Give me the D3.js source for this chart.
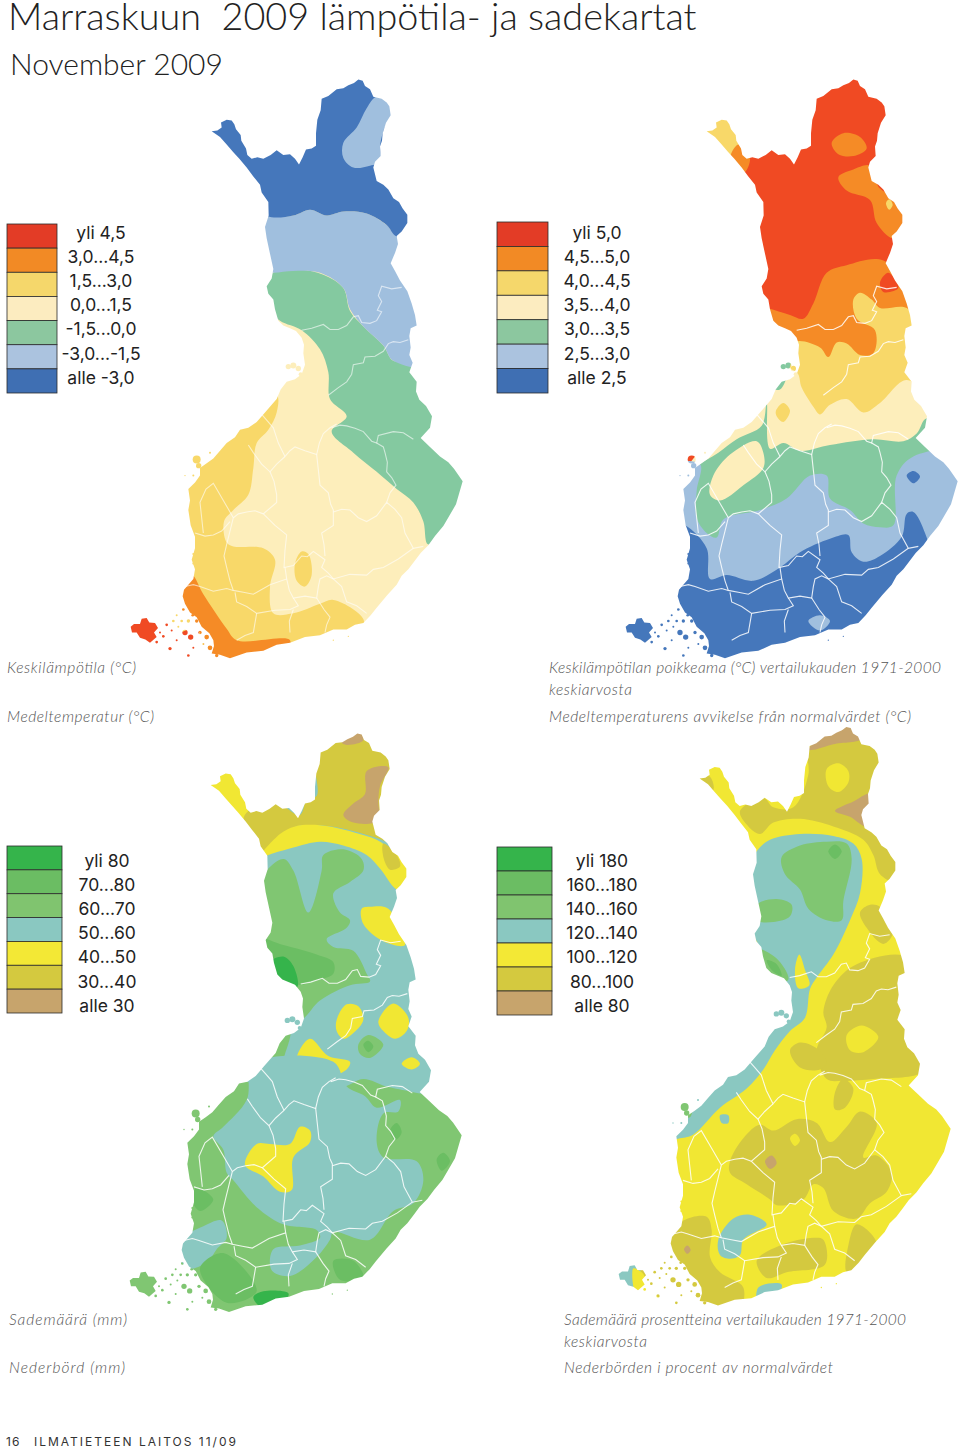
<!DOCTYPE html>
<html>
<head>
<meta charset="utf-8">
<script src="https://cdn.jsdelivr.net/npm/d3@7"></script>
<style>
  html, body { margin: 0; padding: 0; background: #fff; }
  svg { display: block; }
</style>
</head>
<body>
<div id="chart"></div>
<script>
var svgWidth = 960;
var svgHeight = 1450;

// legend classes
var tempLabels = ["yli 4,5", "3,0...4,5", "1,5...3,0", "0,0...1,5", "-1,5...0,0", "-3,0...-1,5", "alle -3,0"];
var devLabels = ["yli 5,0", "4,5...5,0", "4,0...4,5", "3,5...4,0", "3,0...3,5", "2,5...3,0", "alle 2,5"];
var rainLabels = ["yli 80", "70...80", "60...70", "50...60", "40...50", "30...40", "alle 30"];
var pctLabels = ["yli 180", "160...180", "140...160", "120...140", "100...120", "80...100", "alle 80"];

var warmColors = ["#e33c26", "#f28a25", "#f5d76b", "#fcecc0", "#8cc79f", "#abc3df", "#3f6fb3"];
var warmMapColors = ["#f04a23", "#f58b26", "#f8d869", "#fdeebb", "#84c9a0", "#a0bfde", "#4577bb"];
var wetColors = ["#35b44b", "#6bbd63", "#80c46f", "#8ac8c1", "#f3e835", "#d4c93f", "#c7a46c"];
var wetMapColors = ["#35b44b", "#6bbe63", "#80c672", "#8ac8c1", "#f1e733", "#d4c93f", "#c7a46c"];

// country outline (zoomed picture units)
var finland = [[635,160],[652,158],[665,150],[663,137],[680,130],[695,132],[703,142],[708,155],[722,170],[724,185],[738,205],[742,222],[755,232],[772,228],[790,232],[812,222],[830,210],[850,222],[870,220],[885,232],[897,247],[908,228],[918,208],[935,205],[948,198],[948,165],[952,130],[962,105],[965,75],[985,68],[1010,50],[1030,48],[1045,40],[1062,34],[1075,25],[1088,28],[1095,42],[1110,50],[1120,70],[1145,75],[1160,85],[1168,95],[1172,118],[1158,138],[1148,165],[1146,185],[1140,200],[1142,225],[1125,240],[1120,255],[1130,290],[1150,300],[1165,312],[1180,335],[1197,345],[1208,362],[1222,378],[1222,400],[1205,422],[1190,434],[1194,455],[1185,478],[1172,505],[1185,525],[1200,550],[1222,578],[1235,610],[1245,640],[1250,668],[1232,675],[1228,695],[1232,725],[1228,745],[1238,765],[1228,790],[1250,815],[1248,840],[1258,862],[1278,878],[1296,905],[1290,935],[1262,962],[1290,985],[1320,1010],[1345,1025],[1362,1042],[1388,1075],[1378,1105],[1368,1135],[1348,1165],[1330,1192],[1305,1218],[1285,1242],[1262,1262],[1245,1282],[1225,1305],[1205,1322],[1190,1345],[1162,1372],[1130,1405],[1112,1425],[1090,1445],[1065,1450],[1040,1462],[1000,1462],[960,1477],[915,1482],[870,1497],[830,1502],[790,1518],[740,1522],[690,1537],[660,1528],[635,1525],[642,1505],[640,1490],[628,1472],[605,1455],[590,1430],[570,1418],[555,1395],[548,1375],[552,1358],[580,1330],[585,1305],[575,1280],[585,1250],[585,1220],[572,1190],[565,1150],[570,1125],[565,1095],[585,1078],[600,1060],[600,1040],[620,1028],[640,1015],[660,995],[680,975],[705,960],[720,940],[745,935],[770,920],[795,895],[830,860],[842,835],[860,815],[885,808],[905,795],[915,770],[910,740],[912,718],[905,700],[888,682],[870,675],[850,668],[835,655],[825,625],[820,600],[805,585],[800,565],[815,545],[820,520],[810,480],[800,440],[795,410],[806,380],[805,345],[785,320],[780,300],[760,278],[740,255],[718,232],[700,215],[680,195],[660,175]];
var aland = [[392,1455],[402,1448],[420,1448],[425,1434],[440,1432],[448,1444],[465,1445],[474,1458],[462,1470],[470,1482],[450,1497],[436,1488],[420,1484],[410,1470],[396,1470]];
var islets = [[480,1470,3],[500,1450,4],[520,1440,4],[530,1425,3],[550,1410,4],[565,1440,5],[590,1440,5],[605,1420,4],[555,1470,8],[572,1482,8],[600,1470,5],[620,1482,7],[510,1512,5],[580,1510,3],[565,1530,4],[640,1450,6],[625,1430,5],[660,1500,8],[630,1510,7],[590,1018,12],[596,1034,8],[580,1060,3],[555,1060,2],[630,1000,3],[660,1000,3],[580,1290,3],[580,1265,3],[865,775,8],[880,772,9],[895,780,8],[902,795,6],[1045,1480,2],[1000,1490,2],[470,1495,4],[490,1480,4],[610,1450,5],[545,1440,4],[515,1465,3],[535,1455,3],[578,1425,4],[625,1455,5],[645,1475,6],[610,1500,3],[650,1530,5],[530,1490,3],[680,1520,6]];

// province borders, same units as the outline
var borders = [
  [[905,680],[935,675],[970,665],[990,678],[1015,678],[1040,668],[1060,645],[1075,642],[1085,660],[1110,662],[1130,655],[1145,632],[1132,628],[1145,605],[1135,590],[1145,565],[1175,572],[1205,568]],
  [[985,850],[1015,830],[1040,815],[1055,795],[1060,770],[1090,765],[1095,750],[1125,748],[1150,735],[1165,715],[1180,710],[1200,712],[1225,705]],
  [[995,935],[1020,928],[1040,930],[1065,936],[1090,945],[1115,970],[1130,975],[1135,955],[1180,945],[1210,948],[1240,965]],
  [[1130,975],[1150,985],[1155,1000],[1162,1025],[1160,1050],[1175,1065],[1188,1085],[1170,1105],[1160,1130]],
  [[780,895],[800,915],[820,935],[835,975],[855,1010],[870,995],[885,985],[915,995],[950,1005],[958,975],[970,950],[990,935],[1010,925]],
  [[950,1005],[955,1045],[960,1085],[985,1105],[992,1135],[1000,1150],[1000,1190],[965,1210],[972,1240],[975,1270]],
  [[1000,1155],[1025,1148],[1050,1150],[1075,1170],[1100,1180],[1130,1165],[1160,1130],[1185,1148],[1205,1170],[1215,1210],[1240,1250],[1270,1245]],
  [[855,1010],[830,1030],[810,1050],[785,1030],[760,1000],[745,980]],
  [[810,1050],[822,1075],[830,1110],[830,1130],[790,1160],[825,1190],[860,1215],[855,1255],[852,1300],[880,1295],[905,1270],[922,1272],[940,1258],[975,1280],[965,1300],[985,1315],[1000,1330],[1050,1318],[1100,1320],[1120,1305],[1150,1300],[1195,1278],[1240,1250]],
  [[790,1160],[765,1152],[740,1155],[715,1160],[700,1170],[690,1205],[680,1240],[672,1270],[680,1300],[690,1335],[700,1360],[730,1365],[760,1370],[810,1345],[860,1330],[855,1300]],
  [[700,1170],[670,1125],[640,1080],[618,1095],[600,1130],[605,1170],[610,1210]],
  [[585,1210],[615,1218],[640,1215],[665,1205],[690,1180]],
  [[555,1350],[580,1345],[600,1350],[640,1362],[680,1355],[700,1360]],
  [[860,1330],[868,1360],[880,1380],[915,1375],[950,1380],[955,1350],[960,1330],[980,1322],[1000,1330],[1025,1350],[1040,1390],[1070,1400],[1100,1420]],
  [[880,1380],[895,1400],[870,1410],[825,1412],[770,1420],[740,1402],[710,1390],[705,1365]],
  [[770,1420],[765,1445],[760,1470],[735,1478],[710,1490]],
  [[880,1410],[868,1440],[870,1470]],
  [[950,1380],[972,1410],[990,1430],[980,1450],[975,1470]]
];

// zones: [class label, points], painted in order, each map in its own picture units
var tempZones = [
  ["1,5...3,0", [[830,850],[830,895],[805,940],[770,975],[760,1040],[745,1110],[700,1150],[672,1180],[680,1235],[700,1245],[790,1250],[825,1280],[810,1350],[820,1420],[880,1420],[960,1395],[1000,1385],[1090,1435],[1080,1480],[800,1560],[500,1560],[500,1000],[700,900]]],
  ["1,5...3,0", [[905,1258],[925,1265],[935,1320],[915,1350],[890,1335],[885,1290]]],
  ["3,0...4,5", [[575,1320],[610,1370],[680,1460],[710,1490],[870,1490],[850,1530],[700,1570],[600,1570],[610,1490],[540,1400],[545,1350]]],
  ["yli 4,5", [[370,1410],[480,1410],[530,1470],[590,1455],[595,1500],[560,1540],[500,1530],[370,1520]]],
  ["-1,5...0,0", [[780,570],[820,530],[900,522],[970,535],[1030,570],[1050,630],[1090,670],[1150,720],[1180,760],[1240,755],[1420,900],[1420,1100],[1285,1240],[1270,1180],[1240,1130],[1190,1095],[1130,1050],[1060,1000],[995,945],[1040,905],[990,860],[985,790],[960,730],[905,680],[840,655],[800,620]]],
  ["-3,0...-1,5", [[740,385],[800,382],[880,380],[930,365],[980,380],[1030,370],[1100,375],[1160,405],[1190,432],[1300,430],[1300,770],[1180,760],[1150,720],[1090,670],[1050,625],[1030,570],[960,530],[880,525],[820,530],[760,530]]],
  ["alle -3,0", [[600,100],[800,0],[1300,0],[1300,430],[1190,435],[1160,405],[1100,375],[1030,370],[980,380],[930,365],[880,380],[800,382],[700,320]]],
  ["-3,0...-1,5", [[1130,70],[1180,95],[1150,160],[1140,200],[1142,240],[1110,250],[1060,255],[1030,230],[1030,190],[1070,150],[1100,100]]]
];

var devZones = [
  ["4,0...4,5", [[660,120],[750,125],[785,190],[745,245],[670,200]]],
  ["4,5...5,0", [[750,235],[775,195],[810,230],[790,270]]],
  ["4,5...5,0", [[1055,190],[1090,165],[1140,175],[1160,205],[1120,225],[1075,220]]],
  ["4,5...5,0", [[1075,280],[1120,260],[1170,250],[1200,310],[1290,350],[1280,400],[1240,440],[1190,400],[1170,340],[1100,315]]],
  ["4,0...4,5", [[1218,348],[1228,338],[1238,352],[1228,365]]],
  ["4,5...5,0", [[790,610],[860,622],[930,640],[970,650],[1000,610],[1040,530],[1100,510],[1210,498],[1320,620],[1320,1000],[800,1000]]],
  ["yli 5,0", [[1200,555],[1225,530],[1255,570],[1210,580]]],
  ["4,0...4,5", [[1120,600],[1140,582],[1175,600],[1200,622],[1280,622],[1340,700],[1400,1000],[800,1000],[900,760],[945,710],[1020,725],[1045,750],[1070,712],[1100,715],[1140,745],[1180,740],[1185,680],[1130,650]]],
  ["3,5...4,0", [[870,780],[950,790],[965,830],[1000,880],[1020,900],[1050,875],[1100,860],[1150,895],[1200,870],[1280,810],[1360,880],[1400,1100],[600,1100],[700,950]]],
  ["4,0...4,5", [[888,890],[910,870],[930,890],[910,920],[890,905]]],
  ["3,0...3,5", [[860,870],[845,930],[770,965],[715,1000],[640,1040],[560,1100],[560,1300],[1440,1300],[1440,940],[1340,910],[1310,950],[1270,970],[1180,965],[1050,980],[960,995],[910,975],[870,990]]],
  ["3,0...3,5", [[880,760],[930,760],[925,790],[900,835],[875,830]]],
  ["3,5...4,0", [[690,1110],[700,1060],[750,1005],[830,970],[850,1000],[850,1040],[790,1085],[720,1125]]],
  ["2,5...3,0", [[560,1040],[660,1030],[650,1100],[650,1170],[680,1210],[710,1222],[730,1175],[840,1150],[920,1120],[990,1060],[1040,1060],[1050,1120],[1110,1150],[1150,1185],[1200,1195],[1240,1190],[1250,1060],[1300,1010],[1440,1000],[1480,1100],[1400,1300],[1000,1400],[600,1400]]],
  ["alle 2,5", [[560,1180],[615,1190],[680,1250],[690,1330],[740,1320],[820,1335],[900,1300],[960,1260],[1050,1225],[1105,1215],[1115,1260],[1150,1285],[1200,1270],[1265,1220],[1280,1160],[1300,1155],[1335,1210],[1345,1260],[1200,1450],[1000,1600],[400,1600],[400,1400]]],
  ["alle 2,5", [[1280,1060],[1300,1048],[1320,1062],[1300,1080]]],
  ["2,5...3,0", [[985,1440],[1020,1425],[1050,1440],[1020,1465]]]
];

var rainZones = [
  ["40...50", [[610,100],[700,100],[745,220],[730,265],[680,220],[620,180]]],
  ["30...40", [[730,250],[745,225],[830,205],[900,235],[920,195],[950,185],[950,70],[1080,0],[1200,60],[1200,310],[1130,295],[1050,275],[960,262],[880,268],[830,315],[790,345],[760,300]]],
  ["40...50", [[780,345],[840,285],[885,265],[960,262],[1060,280],[1130,300],[1180,330],[1250,370],[1240,440],[1190,430],[1140,375],[1100,340],[1030,315],[960,305],[880,320],[820,335]]],
  ["30...40", [[1150,310],[1190,340],[1200,370],[1170,378],[1150,345]]],
  ["alle 30", [[1100,120],[1165,110],[1140,160],[1135,200],[1135,250],[1060,255],[1030,235],[1060,205],[1095,180]]],
  ["alle 30", [[1025,45],[1075,15],[1090,40],[1040,52]]],
  ["60...70", [[770,420],[850,350],[880,380],[925,490],[965,380],[970,340],[1030,325],[1085,350],[1090,380],[1050,410],[1000,440],[1020,490],[1050,510],[1040,530],[980,560],[1000,580],[1060,590],[1100,650],[1110,670],[1050,680],[960,720],[900,770],[860,700],[770,680]]],
  ["70...80", [[780,560],[850,575],[950,600],[1000,620],[1000,650],[960,665],[890,680],[800,660]]],
  ["yli 80", [[810,620],[850,605],[880,630],[892,685],[860,685],[825,650]]],
  ["40...50", [[1085,480],[1110,475],[1165,480],[1215,575],[1150,565],[1090,520]]],
  ["40...50", [[1010,770],[1040,730],[1075,735],[1090,770],[1060,805],[1030,820],[1010,800]]],
  ["40...50", [[1135,775],[1180,728],[1225,765],[1220,800],[1185,820],[1150,800]]],
  ["40...50", [[1205,885],[1235,868],[1260,885],[1235,900]]],
  ["60...70", [[1075,835],[1105,810],[1150,835],[1110,870],[1080,860]]],
  ["70...80", [[1090,835],[1105,825],[1120,840],[1105,855]]],
  ["40...50", [[890,870],[930,820],[985,865],[1050,880],[1040,900],[960,925],[900,910]]],
  ["60...70", [[835,790],[870,795],[855,860],[840,890],[800,870]]],
  ["60...70", [[700,930],[760,935],[1030,945],[1090,925],[1160,945],[1240,960],[1420,1000],[1420,1100],[1260,1280],[1100,1480],[1000,1600],[400,1600],[480,1000]]],
  ["50...60", [[760,885],[1000,880],[1040,945],[1095,970],[1130,1000],[1200,980],[1195,1010],[1150,1015],[1130,1090],[1150,1130],[1250,1140],[1270,1190],[1240,1250],[1180,1270],[1110,1345],[1000,1325],[990,1345],[950,1390],[870,1440],[815,1425],[820,1370],[900,1360],[960,1340],[950,1320],[850,1305],[770,1260],[700,1190],[680,1170],[670,1110],[640,1075],[670,1050],[740,980]]],
  ["50...60", [[540,1345],[610,1310],[665,1295],[680,1340],[650,1370],[625,1400],[570,1420],[530,1380]]],
  ["70...80", [[600,1420],[670,1380],[770,1480],[680,1510]]],
  ["70...80", [[1000,1400],[1060,1400],[1090,1445],[1020,1450]]],
  ["70...80", [[1170,1060],[1190,1040],[1205,1065],[1185,1085]]],
  ["70...80", [[1310,1135],[1330,1118],[1350,1140],[1325,1165]]],
  ["70...80", [[590,1210],[640,1240],[600,1270],[575,1240]]],
  ["yli 80", [[760,1495],[790,1480],[865,1485],[860,1500],[790,1525]]],
  ["40...50", [[735,1150],[770,1095],[810,1095],[870,1095],[900,1050],[930,1060],[930,1090],[880,1130],[875,1215],[840,1220],[790,1180]]]
];

var pctZones = [
  ["80...100", [[780,225],[850,190],[880,215],[940,215],[985,130],[985,50],[1100,-20],[1220,80],[1270,350],[1250,410],[1200,390],[1180,340],[1150,300],[1060,265],[960,245],[880,255],[840,285],[800,260]]],
  ["80...100", [[650,130],[690,135],[700,170],[670,170]]],
  ["100...120", [[1040,115],[1075,100],[1105,120],[1105,150],[1075,175],[1045,160]]],
  ["alle 80", [[985,65],[1030,25],[1105,-10],[1145,35],[1060,50],[1000,65]]],
  ["alle 80", [[1065,225],[1120,200],[1170,180],[1160,265],[1110,240]]],
  ["80...100", [[1170,470],[1200,475],[1240,540],[1210,572],[1160,530],[1140,490]]],
  ["80...100", [[1030,750],[1060,680],[1130,625],[1290,610],[1340,880],[1320,910],[1180,925],[1090,930],[1040,925],[1010,850],[1040,790]]],
  ["80...100", [[930,850],[960,830],[1010,845],[1040,880],[1020,900],[960,895]]],
  ["100...120", [[1100,810],[1145,785],[1195,815],[1150,855],[1110,850]]],
  ["120...140", [[830,330],[870,300],[960,285],[1060,290],[1120,310],[1145,350],[1140,440],[1110,510],[1060,600],[1010,660],[990,690],[975,765],[930,800],[885,850],[850,900],[800,950],[720,1000],[640,1070],[600,1080],[480,1090],[480,950],[760,830],[870,680],[800,500],[790,400]]],
  ["100...120", [[958,600],[975,640],[988,680],[955,688],[945,640]]],
  ["140...160", [[905,345],[960,315],[1040,305],[1100,310],[1115,350],[1090,460],[1085,510],[1040,510],[985,480],[960,430],[915,390]]],
  ["160...180", [[1045,330],[1065,312],[1085,330],[1065,350]]],
  ["140...160", [[830,470],[890,455],[935,470],[930,500],[880,515],[830,510]]],
  ["140...160", [[830,585],[890,610],[925,665],[880,675],[840,630]]],
  ["160...180", [[860,615],[890,625],[905,655],[875,640]]],
  ["80...100", [[1130,1305],[1190,1355],[1130,1430],[1100,1430],[1105,1360]]],
  ["80...100", [[750,1140],[790,1080],[840,1045],[880,1060],[950,1030],[1010,1040],[1050,1090],[1100,1050],[1140,1010],[1190,1040],[1150,1130],[1190,1125],[1235,1170],[1220,1220],[1170,1250],[1130,1290],[1060,1270],[1030,1210],[1000,1200],[970,1240],[890,1255],[870,1240],[800,1200],[750,1170]]],
  ["100...120", [[930,1080],[945,1068],[960,1085],[945,1100]]],
  ["alle 80", [[855,1140],[875,1125],[890,1145],[870,1160]]],
  ["80...100", [[1065,960],[1090,925],[1120,950],[1095,1000],[1065,1005]]],
  ["80...100", [[570,1340],[610,1295],[680,1285],[695,1320],[690,1390],[720,1430],[790,1470],[770,1540],[600,1540],[480,1420],[540,1400]]],
  ["alle 80", [[612,1370],[622,1360],[632,1372],[622,1382]]],
  ["120...140", [[715,1345],[760,1290],[810,1280],[860,1305],[790,1345],[780,1385],[750,1395],[720,1385]]],
  ["80...100", [[830,1400],[900,1360],[1000,1340],[1030,1345],[1035,1410],[920,1430],[860,1445]]],
  ["120...140", [[400,1420],[460,1400],[490,1470],[440,1490]]],
  ["100...120", [[460,1420],[490,1435],[500,1480],[470,1490]]],
  ["120...140", [[835,1470],[905,1462],[875,1515],[835,1515]]],
  ["140...160", [[595,990],[635,985],[630,1025],[600,1020]]],
  ["120...140", [[720,1020],[745,1020],[745,1040],[725,1040]]]
];

// captions
var titleMain = "Marraskuun  2009 lämpötila- ja sadekartat";
var titleSub = "November 2009";
var footerPage = "16";
var footerName = "ILMATIETEEN LAITOS 11/09";

var panels = [
  { labels: tempLabels, legendColors: warmColors, mapColors: warmMapColors, base: "0,0...1,5", zones: tempZones,
    originX: 0, originY: 70, shiftX: 0, shiftY: 0,
    legend: { x: 7, top: 224, bottom: 393, w: 50, tx: 101, textTop: 222, textBottom: 391 },
    caption: [[7, 673, "Keskilämpötila (°C)", 129], [7, 722, "Medeltemperatur (°C)", 147]] },
  { labels: devLabels, legendColors: warmColors, mapColors: warmMapColors, base: "yli 5,0", zones: devZones,
    originX: 480, originY: 70, shiftX: 45, shiftY: 0,
    legend: { x: 497, top: 222, bottom: 393, w: 51, tx: 597, textTop: 222, textBottom: 391 },
    caption: [[549, 673, "Keskilämpötilan poikkeama (°C) vertailukauden 1971-2000", 392], [549, 695, "keskiarvosta", 83], [549, 722, "Medeltemperaturens avvikelse från normalvärdet (°C)", 362]] },
  { labels: rainLabels, legendColors: wetColors, mapColors: wetMapColors, base: "50...60", zones: rainZones,
    originX: 0, originY: 725, shiftX: -3, shiftY: -3,
    legend: { x: 7, top: 846, bottom: 1013, w: 55, tx: 107, textTop: 850, textBottom: 1019 },
    caption: [[9, 1325, "Sademäärä (mm)", 118], [9, 1373, "Nederbörd (mm)", 116]] },
  { labels: pctLabels, legendColors: wetColors, mapColors: wetMapColors, base: "100...120", zones: pctZones,
    originX: 480, originY: 725, shiftX: 24, shiftY: -20,
    legend: { x: 497, top: 847, bottom: 1015, w: 55, tx: 602, textTop: 850, textBottom: 1019 },
    caption: [[564, 1325, "Sademäärä prosentteina vertailukauden 1971-2000", 342], [564, 1347, "keskiarvosta", 83], [564, 1373, "Nederbörden i procent av normalvärdet", 269]] }
];

var svg = d3.select("#chart")
  .append("svg")
  .attr("width", svgWidth)
  .attr("height", svgHeight)
  .attr("viewBox", "0 0 " + svgWidth + " " + svgHeight);

svg.append("text")
  .attr("x", 8)
  .attr("y", 30)
  .attr("xml:space", "preserve")
  .style("white-space", "pre")
  .style("font", "300 37.8px Lato")
  .style("fill", "#222")
  .text(titleMain);

svg.append("text")
  .attr("x", 10)
  .attr("y", 75)
  .style("font", "300 30px Lato")
  .style("fill", "#222")
  .text(titleSub);

panels.forEach(function(p, i) {
  // picture units of this map -> page pixels
  var zx = d3.scaleLinear().domain([0, 1440]).range([p.originX, p.originX + 480]);
  var zy = d3.scaleLinear().domain([0, 1568]).range([p.originY, p.originY + 600]);
  // same scales for the shared outline, moved to where this map sits
  var ox = function(v) { return zx(v + p.shiftX); };
  var oy = function(v) { return zy(v + p.shiftY); };

  var color = d3.scaleOrdinal().domain(p.labels).range(p.mapColors);

  var outlinePath = d3.line().x(function(d) { return ox(d[0]); }).y(function(d) { return oy(d[1]); })
    .curve(d3.curveLinearClosed);
  var borderPath = d3.line().x(function(d) { return ox(d[0]); }).y(function(d) { return oy(d[1]); })
    .curve(d3.curveLinear);
  var zonePath = d3.line().x(function(d) { return zx(d[0]); }).y(function(d) { return zy(d[1]); })
    .curve(d3.curveCatmullRomClosed.alpha(0.5));

  var clip = svg.append("clipPath").attr("id", "land" + i);
  clip.append("path").attr("d", outlinePath(finland));
  clip.append("path").attr("d", outlinePath(aland));
  clip.selectAll("circle")
    .data(islets)
    .enter()
    .append("circle")
    .attr("cx", function(d) { return ox(d[0]); })
    .attr("cy", function(d) { return oy(d[1]); })
    .attr("r", function(d) { return zx(d[2]) - zx(0); });

  var map = svg.append("g").attr("clip-path", "url(#land" + i + ")");

  map.append("rect")
    .attr("x", zx(0))
    .attr("y", zy(0) - 10)
    .attr("width", zx(1440) - zx(0))
    .attr("height", zy(1568) - zy(0))
    .attr("fill", color(p.base));

  map.selectAll("path.zone")
    .data(p.zones)
    .enter()
    .append("path")
    .attr("class", "zone")
    .attr("fill", function(d) { return color(d[0]); })
    .attr("d", function(d) { return zonePath(d[1]); });

  map.selectAll("path.border")
    .data(borders)
    .enter()
    .append("path")
    .attr("class", "border")
    .attr("fill", "none")
    .attr("stroke", "#fff")
    .attr("stroke-opacity", i == 0 ? 0.6 : 0.85)
    .attr("stroke-width", 1.1)
    .attr("d", borderPath);

  // legend
  var band = d3.scaleBand().domain(p.labels).range([p.legend.top, p.legend.bottom]);
  var textBand = d3.scaleBand().domain(p.labels).range([p.legend.textTop, p.legend.textBottom]);
  var swatch = d3.scaleOrdinal().domain(p.labels).range(p.legendColors);

  svg.selectAll("rect.sw" + i)
    .data(p.labels)
    .enter()
    .append("rect")
    .attr("class", "sw" + i)
    .attr("x", p.legend.x)
    .attr("y", function(d) { return band(d); })
    .attr("width", p.legend.w)
    .attr("height", band.bandwidth())
    .attr("fill", function(d) { return swatch(d); })
    .attr("stroke", "#2b2b2b")
    .attr("stroke-width", 0.8);

  svg.selectAll("text.lb" + i)
    .data(p.labels)
    .enter()
    .append("text")
    .attr("class", "lb" + i)
    .attr("x", p.legend.tx)
    .attr("y", function(d) { return textBand(d) + textBand.bandwidth() / 2; })
    .attr("text-anchor", "middle")
    .attr("dominant-baseline", "middle")
    .style("font", "400 17.5px Inter")
    .style("fill", "#222")
    .text(function(d) { return d; });

  svg.selectAll("text.cp" + i)
    .data(p.caption)
    .enter()
    .append("text")
    .attr("class", "cp" + i)
    .attr("x", function(d) { return d[0]; })
    .attr("y", function(d) { return d[1]; })
    .attr("textLength", function(d) { return d[3]; })
    .attr("lengthAdjust", "spacing")
    .style("font", "italic 300 15.5px Lato")
    .style("fill", "#555")
    .text(function(d) { return d[2]; });
});

svg.append("text")
  .attr("x", 6)
  .attr("y", 1446)
  .style("font", "400 12px Inter")
  .style("letter-spacing", "1px")
  .style("fill", "#333")
  .text(footerPage);

svg.append("text")
  .attr("x", 34)
  .attr("y", 1446)
  .style("font", "400 12px Inter")
  .style("letter-spacing", "2px")
  .style("fill", "#333")
  .text(footerName);
</script>
</body>
</html>
